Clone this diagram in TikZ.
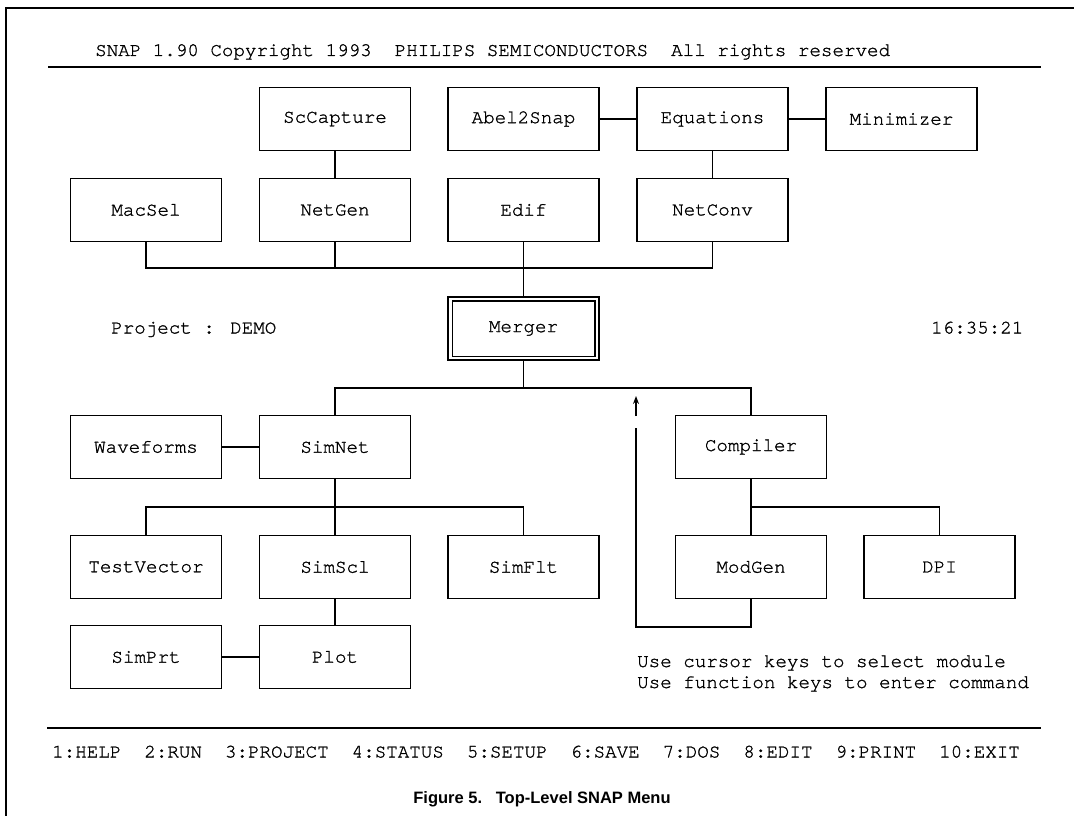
\documentclass[tikz,border=0pt]{standalone}
\usepackage{fontspec}
\usetikzlibrary{arrows.meta}
\newfontfamily\monofnt[FakeBold=1.2]{texgyrecursor-regular.otf}
\newfontfamily\capfnt{Liberation Sans}
\begin{document}
\begin{tikzpicture}[x=1pt,y=-1pt,
  every node/.style={font=\monofnt\fontsize{19.2}{23}\selectfont},
  mod/.style={draw, line width=1.5pt, minimum width=151pt, minimum height=63pt, inner sep=0pt},
  wire/.style={line width=1.5pt, line join=miter},
  txt/.style={anchor=base west, inner sep=0pt},
]
\useasboundingbox (0,0) rectangle (1074,816);
% frame
\coordinate (fa) at (1074,8);
\coordinate (fb) at (6,8);
\coordinate (fc) at (6,816);
\draw[line width=1.3pt] (fa) -- (fb) -- (fc);
% header
\node[txt] (hdr) at (95,56) {SNAP 1.90 Copyright 1993\ \ PHILIPS SEMICONDUCTORS\ \ All rights reserved};
\coordinate (r1a) at (48,67);
\coordinate (r1b) at (1041,67);
\draw[line width=1.3pt] (r1a) -- (r1b);
% modules
\node[mod] (sccapture) at (335,119) {ScCapture};
\node[mod] (abel) at (523.5,119) {Abel2Snap};
\node[mod] (equations) at (712.5,119) {Equations};
\node[mod] (minimizer) at (901.5,119) {Minimizer};
\node[mod] (macsel) at (146,210) {MacSel};
\node[mod] (netgen) at (335,210) {NetGen};
\node[mod] (edif) at (523.5,210) {Edif};
\node[mod] (netconv) at (712.5,210) {NetConv};
\node[mod] (merger) at (523.5,328.5) {Merger};
\draw[line width=1.5pt] ([shift={(5,4.5)}]merger.north west) rectangle ([shift={(-5,-4.5)}]merger.south east);
\node[mod] (waveforms) at (146,447) {Waveforms};
\node[mod] (simnet) at (335,447) {SimNet};
\node[mod] (compiler) at (751,447) {Compiler};
\node[mod] (testvector) at (146,567) {TestVector};
\node[mod] (simscl) at (335,567) {SimScl};
\node[mod] (simflt) at (523.5,567) {SimFlt};
\node[mod] (modgen) at (751,567) {ModGen};
\node[mod] (dpi) at (939.5,567) {DPI};
\node[mod] (simprt) at (146,657) {SimPrt};
\node[mod] (plot) at (335,657) {Plot};
% texts
\node[txt] (proj) at (111,333.5) {Project : DEMO};
\node[txt] (clock) at (931,333.5) {16:35:21};
\node[txt] (help1) at (637,667) {Use cursor keys to select module};
\node[txt] (help2) at (637,688) {Use function keys to enter command};
\coordinate (r2a) at (47,728);
\coordinate (r2b) at (1041,728);
\draw[line width=1.3pt] (r2a) -- (r2b);
\node[txt] (fkeys) at (52,757.5) {1:HELP\ \ 2:RUN\ \ 3:PROJECT\ \ 4:STATUS\ \ 5:SETUP\ \ 6:SAVE\ \ 7:DOS\ \ 8:EDIT\ \ 9:PRINT\ \ 10:EXIT};
\node[anchor=base, inner sep=0pt, font=\capfnt\bfseries\fontsize{16.5}{19}\selectfont] (caption) at (542,803) {Figure 5.\ \ \ Top-Level SNAP Menu};
% connectors top
\coordinate (bus1) at (0,268);
\coordinate (bus2) at (0,388);
\coordinate (bus3) at (0,507);
\draw[wire] (abel) -- (equations);
\draw[wire] (equations) -- (minimizer);
\draw[wire] (sccapture) -- (netgen);
\draw[wire] (equations) -- (netconv);
\draw[wire] (macsel.south) -- (macsel.south |- bus1) -- (netconv.south |- bus1) -- (netconv.south);
\draw[wire] (netgen.south) -- (netgen.south |- bus1);
\draw[wire] (edif.south) -- (merger.north);
% lower tree
\draw[wire] (merger.south) -- (merger.south |- bus2);
\draw[wire] (simnet.north) -- (simnet.north |- bus2) -- (compiler.north |- bus2) -- (compiler.north);
\draw[wire] (waveforms) -- (simnet);
\draw[wire] (simnet) -- (simscl);
\draw[wire] (testvector.north) -- (testvector.north |- bus3) -- (simflt.north |- bus3) -- (simflt.north);
\draw[wire] (simscl) -- (plot);
\draw[wire] (simprt) -- (plot);
\draw[wire] (compiler) -- (modgen);
\draw[wire] (compiler.south |- bus3) -- (dpi.north |- bus3) -- (dpi.north);
% loop back
\coordinate (lpa) at (751,627);
\coordinate (lpb) at (636,627);
\coordinate (lpc) at (636,428);
\coordinate (arS) at (636,416);
\coordinate (arE) at (636,396);
\draw[wire] (modgen.south) -- (lpa) -- (lpb) -- (lpc);
\draw[wire, -{Stealth[length=8pt,width=6pt]}] (arS) -- (arE);
\end{tikzpicture}
\end{document}
